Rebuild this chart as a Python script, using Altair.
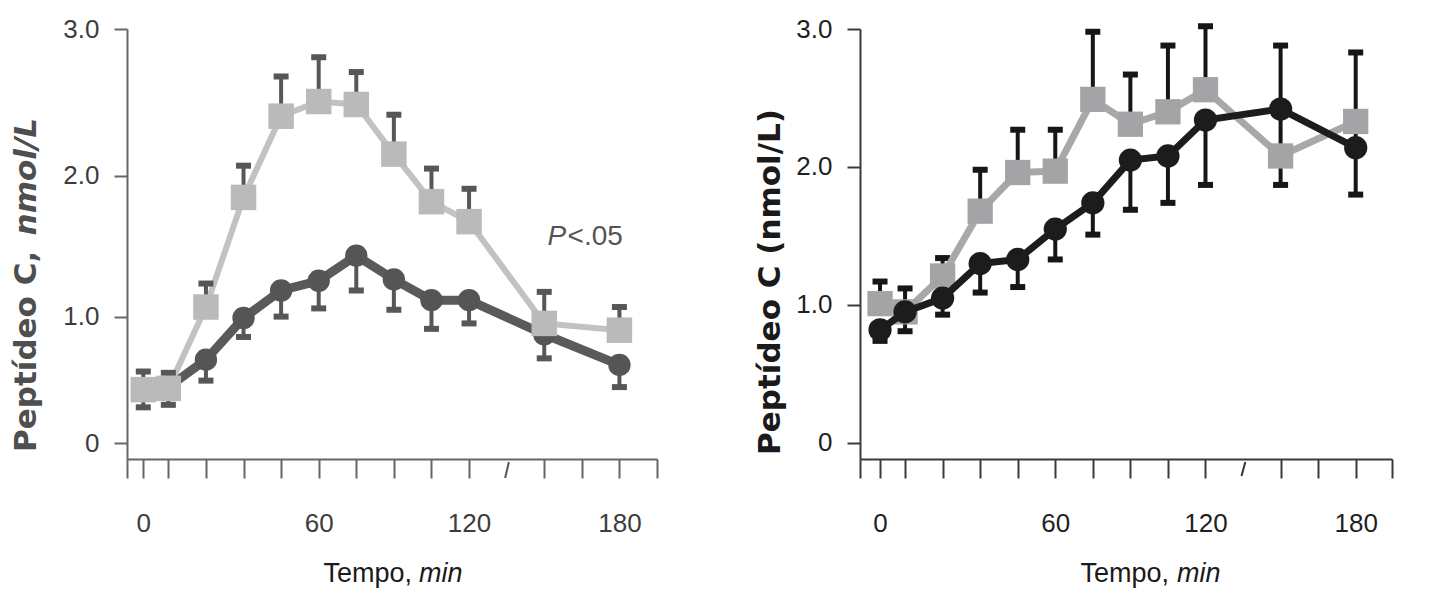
import altair as alt
import pandas as pd

# ---------------- data ----------------
times = [-10, 0, 15, 30, 45, 60, 75, 90, 105, 120, 150, 180]

# left panel (light grey squares / dark grey circles)
left_gray = [0.45, 0.46, 1.07, 1.85, 2.41, 2.51, 2.49, 2.15, 1.82, 1.68, 0.95, 0.90]
left_gray_hi = [0.59, 0.58, 1.24, 2.07, 2.68, 2.81, 2.71, 2.42, 2.05, 1.91, 1.18, 1.07]
left_dark = [0.46, 0.47, 0.68, 0.99, 1.19, 1.26, 1.44, 1.27, 1.12, 1.12, 0.87, 0.64]
left_dark_lo = [0.31, 0.33, 0.52, 0.85, 1.00, 1.06, 1.19, 1.05, 0.91, 0.95, 0.69, 0.47]

# right panel (grey squares / black circles)
right_gray = [1.01, 0.95, 1.21, 1.68, 1.96, 1.97, 2.49, 2.31, 2.40, 2.56, 2.08, 2.33]
right_gray_hi = [1.17, 1.12, 1.34, 1.98, 2.27, 2.27, 2.98, 2.67, 2.88, 3.02, None, None]
right_black = [0.82, 0.95, 1.05, 1.30, 1.33, 1.55, 1.74, 2.05, 2.08, 2.34, 2.42, 2.14]
right_black_lo = [0.74, 0.81, 0.93, 1.09, 1.13, 1.33, 1.51, 1.69, 1.74, 1.87, 1.87, 1.80]
right_black_hi = [None, None, None, None, None, None, None, None, None, None, 2.88, 2.83]

left_x_ticks = [-16.5, -10, 0, 15, 30, 45, 60, 75, 90, 105, 120, 150, 165, 180, 195]
right_x_ticks = [-18, -10, 0, 15, 30, 45, 60, 75, 90, 105, 120, 150, 165, 180, 194.5]
y_ticks = [0, 1, 2, 3]
axis_break = [{"t": 134.4, "t2": 135.9}]

SANS = "Liberation Sans, Arial, Helvetica, sans-serif"
BOLD = "DejaVu Sans, Verdana, sans-serif"

W_L, W_R, H = 530, 532, 430

x_label_expr = ("datum.value == -10 ? '0' : ((datum.value == 60 || datum.value == 120 || "
                "datum.value == 180) ? format(datum.value, 'd') : '')")
y_label_expr = "datum.value == 0 ? '0' : format(datum.value, '.1f')"


def x_enc(domain, ticks, color, lcolor):
    return alt.X("t:Q", scale=alt.Scale(domain=domain, nice=False, zero=False),
                 axis=alt.Axis(values=ticks, labelExpr=x_label_expr, title=None, grid=False,
                               tickSize=19, tickWidth=2, tickColor=color, domainColor=color,
                               domainWidth=2, labelFont=SANS, labelFontSize=26,
                               labelColor=lcolor, labelPadding=32, labelFlush=False,
                               labelOverlap=False))


def y_enc(field, scale, color, lcolor):
    return alt.Y(field, scale=scale,
                 axis=alt.Axis(values=y_ticks, labelExpr=y_label_expr, title=None, grid=False,
                               tickSize=13, tickWidth=2, tickColor=color, domainColor=color,
                               domainWidth=2, labelFont=SANS, labelFontSize=26,
                               labelColor=lcolor, labelPadding=15, labelOverlap=False))


def one(values):
    return alt.Data(values=[values])


# ---------------- left panel ----------------
LAX, LLAB = "#666666", "#3d3d3d"
lx = x_enc([-16.5, 195], left_x_ticks, LAX, LLAB)
lscale = alt.Scale(type="pow", exponent=1.08, domain=[-0.1475, 3.0], nice=False, zero=False)

ldf = pd.DataFrame({"t": times, "gray": left_gray, "gray_hi": left_gray_hi,
                    "dark": left_dark, "dark_lo": left_dark_lo})

EB_L = "#575757"
l_dark_line = alt.Chart(ldf).mark_line(color="#5a5a5a", strokeWidth=9).encode(
    x=lx, y=y_enc("dark:Q", lscale, LAX, LLAB))
l_dark_err = alt.Chart(ldf).mark_rule(color=EB_L, strokeWidth=4).encode(
    x=lx, y=y_enc("dark:Q", lscale, LAX, LLAB), y2="dark_lo:Q")
l_dark_cap = alt.Chart(ldf).mark_tick(orient="horizontal", size=15, thickness=6, color=EB_L,
                                      opacity=1).encode(
    x=lx, y=y_enc("dark_lo:Q", lscale, LAX, LLAB))
l_dark_pts = alt.Chart(ldf).mark_circle(color="#555555", size=500, opacity=1).encode(
    x=lx, y=y_enc("dark:Q", lscale, LAX, LLAB))
l_gray_line = alt.Chart(ldf).mark_line(color="#c2c2c2", strokeWidth=6).encode(
    x=lx, y=y_enc("gray:Q", lscale, LAX, LLAB))
l_gray_err = alt.Chart(ldf).mark_rule(color=EB_L, strokeWidth=4).encode(
    x=lx, y=y_enc("gray:Q", lscale, LAX, LLAB), y2="gray_hi:Q")
l_gray_cap = alt.Chart(ldf).mark_tick(orient="horizontal", size=15, thickness=6, color=EB_L,
                                      opacity=1).encode(
    x=lx, y=y_enc("gray_hi:Q", lscale, LAX, LLAB))
l_gray_pts = alt.Chart(ldf).mark_square(color="#bababa", size=650, opacity=1).encode(
    x=lx, y=y_enc("gray:Q", lscale, LAX, LLAB))

l_break = alt.Chart(alt.Data(values=axis_break)).mark_rule(color="#555555", strokeWidth=2).encode(
    x=lx, x2="t2:Q", y=alt.value(H + 19), y2=alt.value(H + 3))

l_p1 = alt.Chart(one({"t": 158.8, "v": 1.57, "s": "P"})).mark_text(
    font=SANS, fontSize=28, fontStyle="italic", color="#555555", align="right",
    baseline="middle").encode(x=lx, y=y_enc("v:Q", lscale, LAX, LLAB), text="s:N")
l_p2 = alt.Chart(one({"t": 159.3, "v": 1.57, "s": "<.05"})).mark_text(
    font=SANS, fontSize=28, color="#555555", align="left",
    baseline="middle").encode(x=lx, y=y_enc("v:Q", lscale, LAX, LLAB), text="s:N")

l_yt1 = alt.Chart(one({"s": "Peptídeo C,"})).mark_text(
    font=BOLD, fontSize=31, fontWeight="bold", color="#4f4f4f", angle=270, align="left",
    baseline="middle").encode(x=alt.value(-100), y=alt.value(423), text="s:N")
l_yt2 = alt.Chart(one({"s": "nmol/L"})).mark_text(
    font=BOLD, fontSize=31, fontWeight="bold", fontStyle="italic", color="#4f4f4f", angle=270,
    align="right", baseline="middle").encode(x=alt.value(-100), y=alt.value(89), text="s:N")
l_xt1 = alt.Chart(one({"s": "Tempo,"})).mark_text(
    font=SANS, fontSize=27, color="#1a1a1a", align="right", baseline="middle").encode(
    x=alt.value(285), y=alt.value(545), text="s:N")
l_xt2 = alt.Chart(one({"s": "min"})).mark_text(
    font=SANS, fontSize=27, fontStyle="italic", color="#1a1a1a", align="left",
    baseline="middle").encode(x=alt.value(292), y=alt.value(545), text="s:N")

left = alt.layer(l_dark_line, l_dark_err, l_dark_cap, l_dark_pts, l_gray_line, l_gray_err,
                 l_gray_cap, l_gray_pts, l_break, l_p1, l_p2, l_yt1, l_yt2, l_xt1, l_xt2
                 ).properties(width=W_L, height=H)

# ---------------- right panel ----------------
RAX, RLAB = "#3a3a3a", "#1f1f1f"
rx = x_enc([-18, 194.5], right_x_ticks, RAX, RLAB)
rscale = alt.Scale(domain=[-0.116, 3.0], nice=False, zero=False)

rdf = pd.DataFrame({"t": times, "gray": right_gray, "black": right_black})
r_err_rows = []
for t, g, gh, b, bl, bh in zip(times, right_gray, right_gray_hi, right_black, right_black_lo,
                               right_black_hi):
    if gh is not None:
        r_err_rows.append({"t": t, "y0": g, "y1": gh})
    if bl is not None:
        r_err_rows.append({"t": t, "y0": b, "y1": bl})
    if bh is not None:
        r_err_rows.append({"t": t, "y0": b, "y1": bh})
rerr = pd.DataFrame(r_err_rows)

EB_R = "#161616"
r_err = alt.Chart(rerr).mark_rule(color=EB_R, strokeWidth=4).encode(
    x=rx, y=y_enc("y0:Q", rscale, RAX, RLAB), y2="y1:Q")
r_cap = alt.Chart(rerr).mark_tick(orient="horizontal", size=15, thickness=6, color=EB_R,
                                  opacity=1).encode(
    x=rx, y=y_enc("y1:Q", rscale, RAX, RLAB))
r_gray_line = alt.Chart(rdf).mark_line(color="#a8a8aa", strokeWidth=7).encode(
    x=rx, y=y_enc("gray:Q", rscale, RAX, RLAB))
r_gray_pts = alt.Chart(rdf).mark_square(color="#a4a4a6", size=640, opacity=1).encode(
    x=rx, y=y_enc("gray:Q", rscale, RAX, RLAB))
r_black_line = alt.Chart(rdf).mark_line(color="#1c1c1c", strokeWidth=7).encode(
    x=rx, y=y_enc("black:Q", rscale, RAX, RLAB))
r_black_pts = alt.Chart(rdf).mark_circle(color="#1c1c1c", size=540, opacity=1).encode(
    x=rx, y=y_enc("black:Q", rscale, RAX, RLAB))

r_break = alt.Chart(alt.Data(values=axis_break)).mark_rule(color="#333333", strokeWidth=2).encode(
    x=rx, x2="t2:Q", y=alt.value(H + 17), y2=alt.value(H + 3))

r_yt = alt.Chart(one({"s": "Peptídeo C (nmol/L)"})).mark_text(
    font=BOLD, fontSize=31, fontWeight="bold", color="#1a1a1a", angle=270, align="center",
    baseline="middle").encode(x=alt.value(-89), y=alt.value(253), text="s:N")
r_xt1 = alt.Chart(one({"s": "Tempo,"})).mark_text(
    font=SANS, fontSize=27, color="#1a1a1a", align="right", baseline="middle").encode(
    x=alt.value(309), y=alt.value(545), text="s:N")
r_xt2 = alt.Chart(one({"s": "min"})).mark_text(
    font=SANS, fontSize=27, fontStyle="italic", color="#1a1a1a", align="left",
    baseline="middle").encode(x=alt.value(317), y=alt.value(545), text="s:N")

right = alt.layer(r_err, r_cap, r_gray_line, r_gray_pts, r_black_line, r_black_pts, r_break,
                  r_yt, r_xt1, r_xt2).properties(width=W_R, height=H)

chart = alt.hconcat(left, right, spacing=96).properties(
    padding={"left": 3, "top": 8, "right": 4, "bottom": 4},
    background="white",
).configure_view(strokeWidth=0).resolve_scale(x="independent", y="independent")

chart.save("out.html", embed_options={"renderer": "svg", "actions": False})
